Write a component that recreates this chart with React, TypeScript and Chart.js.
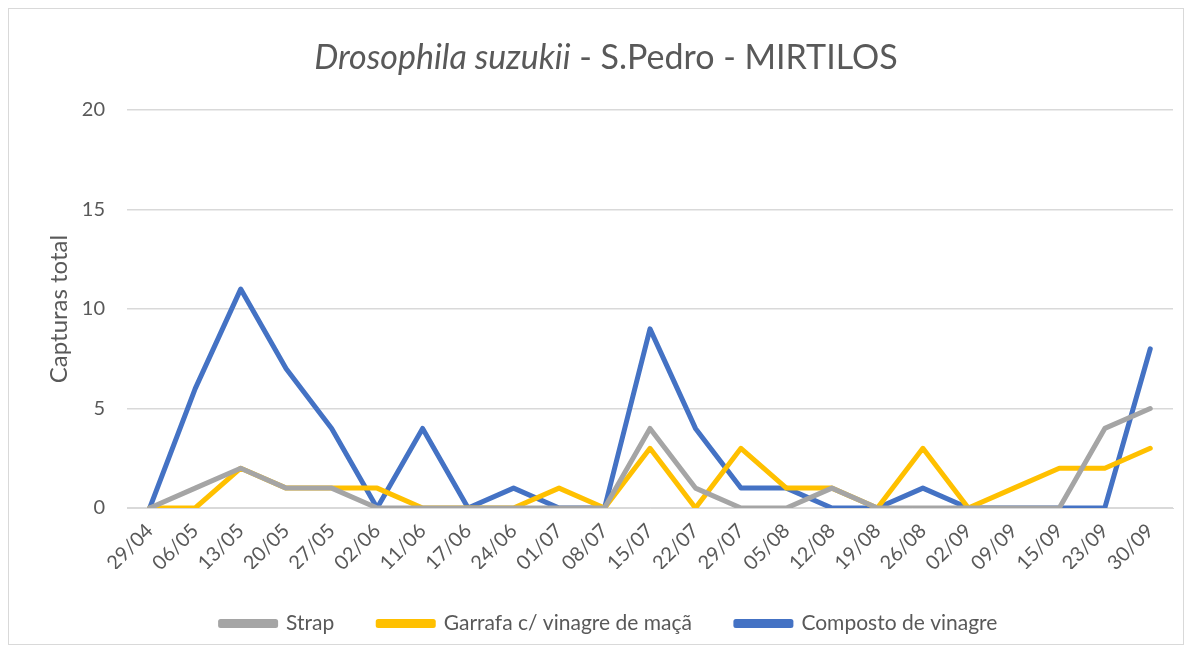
import React, { useEffect, useRef } from "react";
import { Chart, registerables } from "chart.js";

Chart.register(...registerables);

const categories = ["29/04", "06/05", "13/05", "20/05", "27/05", "02/06", "11/06", "17/06", "24/06", "01/07", "08/07", "15/07", "22/07", "29/07", "05/08", "12/08", "19/08", "26/08", "02/09", "09/09", "15/09", "23/09", "30/09"];
const strap = [0, 1, 2, 1, 1, 0, 0, 0, 0, 0, 0, 4, 1, 0, 0, 1, 0, 0, 0, 0, 0, 4, 5];
const garrafa = [0, 0, 2, 1, 1, 1, 0, 0, 0, 1, 0, 3, 0, 3, 1, 1, 0, 3, 0, 1, 2, 2, 3];
const composto = [0, 6, 11, 7, 4, 0, 4, 0, 1, 0, 0, 9, 4, 1, 1, 0, 0, 1, 0, 0, 0, 0, 8];
const seriesNames = ["Strap", "Garrafa c/ vinagre de maçã", "Composto de vinagre"];
const titleItalic = "Drosophila suzukii";
const titleRest = " - S.Pedro - MIRTILOS";
const yTitle = "Capturas total";

const FONT = "Lato, 'Open Sans', sans-serif";
const TEXT = "#595959";

const titlePlugin = {
  id: "mixedTitle",
  afterDraw(chart: any) {
    const ctx = chart.ctx;
    ctx.save();
    ctx.fillStyle = TEXT;
    ctx.textBaseline = "middle";
    const fi = "italic 34px " + FONT;
    const fr = "34px " + FONT;
    ctx.font = fi;
    const w1 = ctx.measureText(titleItalic).width;
    ctx.font = fr;
    const w2 = ctx.measureText(titleRest).width;
    const cx = 597;
    const x0 = cx - (w1 + w2) / 2;
    const y = 49;
    ctx.font = fi;
    ctx.textAlign = "left";
    ctx.fillText(titleItalic, x0, y);
    ctx.font = fr;
    ctx.fillText(titleRest, x0 + w1, y);
    ctx.restore();
  },
};

export default function App() {
  const ref = useRef<HTMLCanvasElement>(null);
  useEffect(() => {
    if (!ref.current) return;
    const mk = (label: string, data: number[], color: string) => ({
      label,
      data,
      borderColor: color,
      backgroundColor: color,
      borderWidth: 5,
      pointRadius: 0,
      tension: 0,
      borderJoinStyle: "round" as const,
      borderCapStyle: "round" as const,
    });
    const chart = new Chart(ref.current, {
      type: "line",
      data: {
        labels: categories,
        datasets: [
          mk(seriesNames[0], strap, "#A5A5A5"),
          mk(seriesNames[1], garrafa, "#FFC000"),
          mk(seriesNames[2], composto, "#4472C4"),
        ],
      },
      plugins: [titlePlugin],
      options: {
        animation: false,
        responsive: false,
        maintainAspectRatio: false,
        layout: { padding: { top: 101, right: 10, left: 36, bottom: 0 } },
        plugins: {
          title: { display: false },
          tooltip: { enabled: false },
          legend: {
            position: "bottom",
            labels: {
              color: TEXT,
              font: { family: FONT, size: 21 },
              boxWidth: 55,
              boxHeight: 4,
              padding: 44,
            },
          },
        },
        scales: {
          x: {
            offset: true,
            grid: { display: false },
            border: { display: true, color: "#d9d9d9" },
            afterFit: (s: any) => {
              s.height = 61;
            },
            ticks: {
              color: TEXT,
              font: { family: FONT, size: 20 },
              minRotation: 45,
              maxRotation: 45,
              autoSkip: false,
            },
          },
          y: {
            min: 0,
            max: 20,
            afterFit: (s: any) => {
              s.width = 82;
            },
            grid: { color: "#d9d9d9", lineWidth: 1.5, drawTicks: false },
            border: { display: false },
            ticks: {
              stepSize: 5,
              color: TEXT,
              font: { family: FONT, size: 20 },
              padding: 22,
            },
            title: {
              display: true,
              text: yTitle,
              color: TEXT,
              font: { family: FONT, size: 24 },
              padding: { top: 0, bottom: 0 },
            },
          },
        },
      },
    });
    return () => chart.destroy();
  }, []);
  return (
    <div style={{ width: 1176, height: 637, border: "1px solid #d9d9d9", boxSizing: "border-box", background: "#fff" }}>
      <canvas ref={ref} width={1174} height={635} style={{ display: "block" }} />
    </div>
  );
}
